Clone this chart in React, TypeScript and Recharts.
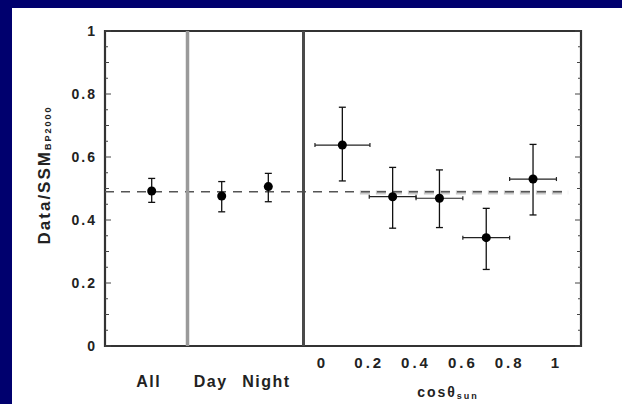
import { ScatterChart, Scatter, XAxis, YAxis, ErrorBar, ReferenceLine, ReferenceArea, LabelList } from 'recharts';

// panel 1: all data
const ALL_LABELS = ['All'];
const ALL_RATIO = [0.492];
const ALL_ERR = [[0.036, 0.04]];

// panel 2: day / night
const DN_LABELS = ['Day', 'Night'];
const DN_RATIO = [0.476, 0.506];
const DN_ERR = [[0.05, 0.046], [0.048, 0.042]];

// panel 3: bins of cos(theta_sun)
const COS_BINS = [0.085, 0.3, 0.5, 0.7, 0.9];
const COS_BIN_ERR = [[0.117, 0.118], [0.1, 0.1], [0.1, 0.1], [0.1, 0.1], [0.1, 0.1]];
const COS_RATIO = [0.638, 0.474, 0.469, 0.344, 0.53];
const COS_ERR = [[0.114, 0.12], [0.1, 0.093], [0.093, 0.09], [0.101, 0.093], [0.114, 0.11]];

const SSM_LEVEL = 0.49;
const BAND_LEVEL = 0.487;
const COS_TICKS = [0, 0.2, 0.4, 0.6, 0.8, 1];
const Y_LABELS = [0, 0.2, 0.4, 0.6, 0.8, 1];
const Y_TICKS = [0, 0.05, 0.1, 0.15, 0.2, 0.25, 0.3, 0.35, 0.4, 0.45, 0.5, 0.55, 0.6, 0.65, 0.7, 0.75, 0.8, 0.85, 0.9, 0.95, 1];

const allData = ALL_RATIO.map((y, i) => ({ x: i, y, yErr: ALL_ERR[i], name: ALL_LABELS[i] }));
const dnData = DN_RATIO.map((y, i) => ({ x: i, y, yErr: DN_ERR[i], name: DN_LABELS[i] }));
const cosData = COS_BINS.map((x, i) => ({ x, y: COS_RATIO[i], xErr: COS_BIN_ERR[i], yErr: COS_ERR[i] }));

// layout
const W = 622;
const H = 404;
const PLOT_LEFT = 105;
const PLOT_RIGHT = 581;
const PLOT_TOP = 31;
const PLOT_BOTTOM = 346;
const PLOT_W = PLOT_RIGHT - PLOT_LEFT;
const P1_W = 82.5;
const P2_W = 116;
const INK = '#222';
const FONT = '"Liberation Sans", Arial, Helvetica, sans-serif';
// the category names sit a little left of their points in the original
const LABEL_NUDGE: Record<string, number> = { All: -3, Day: -11, Night: -2 };

const YTick = (props: any) => {
  const { y, payload } = props;
  const v = payload.value;
  const major = Y_LABELS.some((m) => Math.abs(m - v) < 1e-6);
  const tenth = Math.abs(v * 10 - Math.round(v * 10)) < 1e-6;
  const len = major ? 6 : tenth ? 4 : 3;
  return (
    <g>
      <line x1={PLOT_LEFT} x2={PLOT_LEFT + len} y1={y} y2={y} stroke="#444" strokeWidth={1} />
      <line x1={PLOT_RIGHT} x2={PLOT_RIGHT - len} y1={y} y2={y} stroke="#444" strokeWidth={1} />
      {major && (
        <text x={PLOT_LEFT - 8} y={y} dy="0.36em" textAnchor="end" fontSize={14} fontWeight="bold" fill={INK} letterSpacing={2}>
          {String(v)}
        </text>
      )}
    </g>
  );
};

// category name under each point of panels 1 and 2
const CatLabel = (props: any) => {
  const vb = props.viewBox || props;
  const cx = vb.x + (vb.width || 0) / 2 + (LABEL_NUDGE[props.value] || 0);
  return (
    <text x={cx} y={387} textAnchor="middle" fontSize={16} fontWeight="bold" fill={INK} letterSpacing={1.5}>
      {props.value}
    </text>
  );
};

const YTitle = () => (
  <text
    x={44}
    y={175}
    transform="rotate(-90, 44, 175)"
    textAnchor="middle"
    dominantBaseline="central"
    fontSize={17}
    fontWeight="bold"
    fill={INK}
    letterSpacing={2}
  >
    Data/SSM
    <tspan fontSize={9} dy={4}>BP2000</tspan>
  </text>
);

const CosTitle = () => (
  <text x={448} y={397} textAnchor="middle" fontSize={14} fontWeight="bold" fill={INK} letterSpacing={2}>
    cosθ
    <tspan fontSize={9} dy={2}>sun</tspan>
  </text>
);

const tickStyle = { fontSize: 15, fontWeight: 'bold', fill: INK, letterSpacing: 3 };

export default function App() {
  return (
    <div style={{ position: 'absolute', left: 0, top: 0, width: W, height: H, background: '#00006e', fontFamily: FONT }}>
      <div style={{ position: 'absolute', left: 12, top: 8, width: W - 12, height: H - 8, background: '#fff' }} />
      <div style={{ position: 'absolute', left: 0, top: 0 }}>
        <ScatterChart width={W} height={H} margin={{ top: PLOT_TOP, right: W - PLOT_RIGHT, bottom: 0, left: PLOT_LEFT - 60 }}>
          <XAxis
            xAxisId="a_cos"
            type="number"
            dataKey="x"
            domain={[-0.081, 1.105]}
            allowDataOverflow
            padding={{ left: P1_W + P2_W, right: 0 }}
            ticks={COS_TICKS}
            interval={0}
            tickFormatter={(v: number) => String(v)}
            tick={tickStyle}
            tickLine={false}
            axisLine={false}
            tickMargin={5}
            height={H - PLOT_BOTTOM}
            label={{ content: () => <CosTitle /> }}
          />
          <XAxis
            xAxisId="b_all"
            type="number"
            dataKey="x"
            domain={[-0.566, 0.434]}
            allowDataOverflow
            padding={{ left: 0, right: PLOT_W - P1_W }}
            height={0}
            hide
          />
          <XAxis
            xAxisId="c_dn"
            type="number"
            dataKey="x"
            domain={[-0.734, 1.755]}
            allowDataOverflow
            padding={{ left: P1_W, right: PLOT_W - P1_W - P2_W }}
            height={0}
            hide
          />
          <XAxis xAxisId="d_frame" type="number" dataKey="x" domain={[0, 1]} allowDataOverflow height={0} hide />
          <YAxis
            yAxisId="y"
            type="number"
            dataKey="y"
            domain={[0, 1]}
            allowDataOverflow
            ticks={Y_TICKS}
            interval={0}
            tick={YTick}
            tickLine={false}
            axisLine={false}
            width={60}
            label={{ content: () => <YTitle /> }}
          />

          <ReferenceLine
            xAxisId="a_cos"
            yAxisId="y"
            segment={[{ x: 0.16, y: BAND_LEVEL }, { x: 1.05, y: BAND_LEVEL }]}
            stroke="#c9c9c9"
            strokeWidth={4}
            strokeDasharray="10 6"
            ifOverflow="visible"
          />
          <ReferenceLine
            xAxisId="d_frame"
            yAxisId="y"
            segment={[{ x: 0, y: SSM_LEVEL }, { x: 0.97, y: SSM_LEVEL }]}
            stroke="#555"
            strokeWidth={1.5}
            strokeDasharray="9 7"
          />
          <ReferenceLine xAxisId="d_frame" yAxisId="y" x={P1_W / PLOT_W} stroke="#9a9a9a" strokeWidth={3.5} />
          <ReferenceLine xAxisId="d_frame" yAxisId="y" x={(P1_W + P2_W) / PLOT_W} stroke="#4a4a4a" strokeWidth={3} />
          <ReferenceArea xAxisId="d_frame" yAxisId="y" y1={0} y2={1} fill="none" stroke="#333" strokeWidth={2.2} />

          <Scatter data={allData} xAxisId="b_all" yAxisId="y" fill="#000" shape="circle" isAnimationActive={false}>
            <ErrorBar dataKey="yErr" direction="y" width={3.5} stroke="#111" strokeWidth={1.3} isAnimationActive={false} />
            <LabelList dataKey="name" content={CatLabel} />
          </Scatter>
          <Scatter data={dnData} xAxisId="c_dn" yAxisId="y" fill="#000" shape="circle" isAnimationActive={false}>
            <ErrorBar dataKey="yErr" direction="y" width={3.5} stroke="#111" strokeWidth={1.3} isAnimationActive={false} />
            <LabelList dataKey="name" content={CatLabel} />
          </Scatter>
          <Scatter data={cosData} xAxisId="a_cos" yAxisId="y" fill="#000" shape="circle" isAnimationActive={false}>
            <ErrorBar dataKey="xErr" direction="x" width={2} stroke="#222" strokeWidth={1.2} isAnimationActive={false} />
            <ErrorBar dataKey="yErr" direction="y" width={3.5} stroke="#111" strokeWidth={1.3} isAnimationActive={false} />
          </Scatter>
        </ScatterChart>
      </div>
    </div>
  );
}
